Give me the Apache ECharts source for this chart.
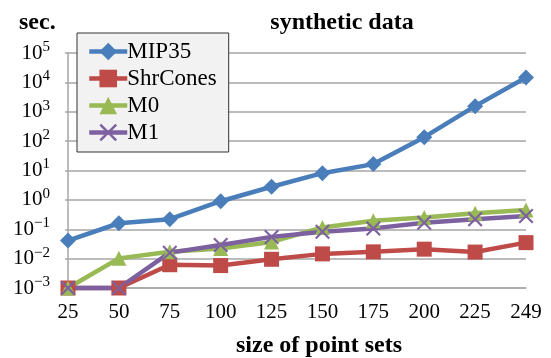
<!DOCTYPE html>
<html>
<head>
<meta charset="utf-8">
<script src="https://cdn.jsdelivr.net/npm/echarts@6/dist/echarts.min.js"></script>
<style>
  html, body { margin: 0; padding: 0; background: #fff; }
  #chart { width: 551px; height: 358px; }
</style>
</head>
<body>
<div id="chart"></div>
<script>
var sizes = ['25', '50', '75', '100', '125', '150', '175', '200', '225', '249'];
var mip35 = [0.041, 0.16, 0.22, 0.9, 2.8, 8.1, 16.5, 136, 1550, 14700];
var shrCones = [0.001, 0.001, 0.0062, 0.0058, 0.0095, 0.0145, 0.017, 0.021, 0.0167, 0.035];
var m0 = [0.001, 0.0102, 0.017, 0.022, 0.037, 0.115, 0.195, 0.25, 0.35, 0.45];
var m1 = [0.001, 0.001, 0.016, 0.029, 0.055, 0.082, 0.107, 0.166, 0.22, 0.28];
var yExponents = [-3, -2, -1, 0, 1, 2, 3, 4, 5];

var FONT = 'Liberation Serif';
var xMark = 'path://M0,1L1,0L5,4L9,0L10,1L6,5L10,9L9,10L5,6L1,10L0,9L4,5Z';

var chart = echarts.init(document.getElementById('chart'));

function lineSeries(name, data, color, symbol, size) {
  return {
    name: name,
    type: 'line',
    data: data,
    symbol: symbol,
    symbolSize: size,
    showSymbol: true,
    clip: false,
    lineStyle: { color: color, width: 4.5 },
    itemStyle: { color: color },
    emphasis: { disabled: true }
  };
}

chart.setOption({
  backgroundColor: '#fff',
  animation: false,
  textStyle: { fontFamily: FONT },
  title: [{
    text: 'synthetic data',
    left: 337,
    top: 6,
    textAlign: 'center',
    textStyle: { fontFamily: FONT, fontWeight: 'bold', fontSize: 24, color: '#000' }
  }, {
    text: 'sec.',
    left: 14,
    top: 6,
    textStyle: { fontFamily: FONT, fontWeight: 'bold', fontSize: 24, color: '#000' }
  }],
  legend: {
    orient: 'vertical',
    left: 77,
    top: 33,
    padding: [7, 12, 8, 10],
    itemGap: 4,
    itemWidth: 38,
    itemHeight: 22,
    backgroundColor: '#f2f2f2',
    borderColor: '#333',
    borderWidth: 1,
    borderRadius: 0,
    lineStyle: { width: 4.5 },
    textStyle: { fontFamily: FONT, fontSize: 23, color: '#000', padding: [0, 0, 0, -5] },
    data: ['MIP35', 'ShrCones', 'M0', 'M1']
  },
  grid: { left: 68, right: 25, top: 53, bottom: 70, outerBoundsMode: 'none', containLabel: false },
  xAxis: {
    type: 'category',
    boundaryGap: false,
    data: sizes,
    name: 'size of point sets',
    nameLocation: 'middle',
    nameGap: 46,
    nameTextStyle: { fontFamily: FONT, fontWeight: 'bold', fontSize: 24, color: '#000', padding: [0, 0, 0, 44] },
    axisLine: { show: true, lineStyle: { color: '#a6a6a6', width: 1.5 } },
    axisTick: { show: false },
    axisLabel: { fontFamily: FONT, fontSize: 21, color: '#000', margin: 14 },
    splitLine: { show: false }
  },
  yAxis: {
    type: 'log',
    logBase: 10,
    min: Math.pow(10, yExponents[0]),
    max: Math.pow(10, yExponents[yExponents.length - 1]),
    axisLine: { show: true, lineStyle: { color: '#a6a6a6', width: 1.5 } },
    axisTick: { show: true, length: 3, lineStyle: { color: '#a6a6a6', width: 1.5 } },
    splitLine: { show: true, lineStyle: { color: '#a6a6a6', width: 1.5 } },
    axisLabel: {
      margin: 18,
      formatter: function (v) {
        var e = Math.round(Math.log10(v));
        if (yExponents.indexOf(e) < 0) return '';
        var s = e < 0 ? '\u2212' + (-e) : '' + e;
        return '{b|10}{s|' + s + '}';
      },
      rich: {
        b: { fontFamily: FONT, fontSize: 21, lineHeight: 27, color: '#000', verticalAlign: 'middle' },
        s: { fontFamily: FONT, fontSize: 15, lineHeight: 15, color: '#000', verticalAlign: 'top' }
      }
    }
  },
  series: [
    lineSeries('MIP35', mip35, '#4a7ebb', 'diamond', 16),
    lineSeries('ShrCones', shrCones, '#be4b48', 'rect', 15),
    lineSeries('M0', m0, '#98b954', 'triangle', 15),
    lineSeries('M1', m1, '#7d60a0', xMark, 15)
  ]
});
</script>
</body>
</html>
